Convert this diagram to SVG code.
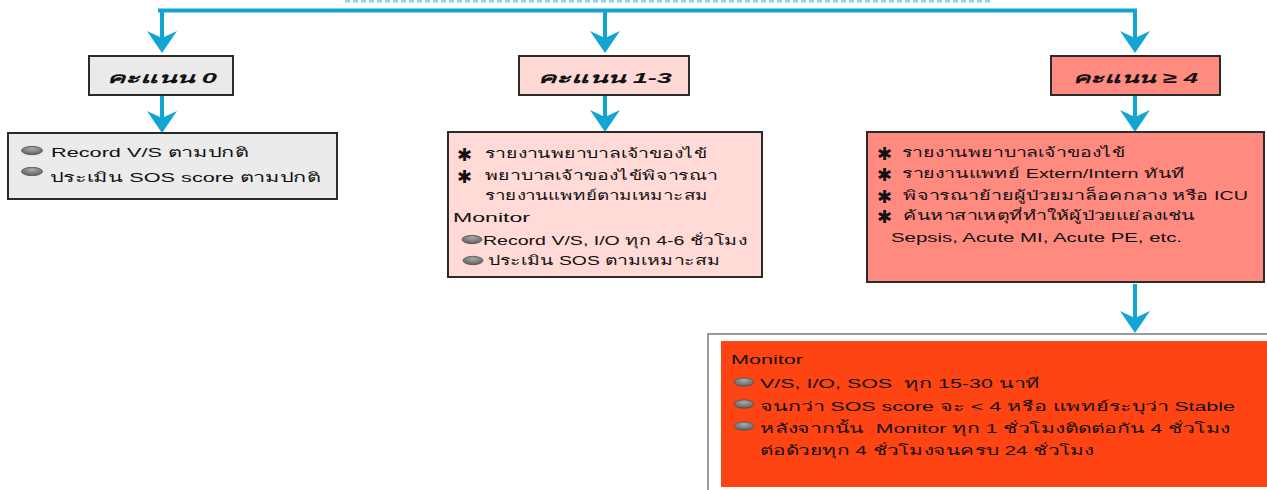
<svg xmlns="http://www.w3.org/2000/svg" width="1267" height="490" viewBox="0 0 1267 490">
<style>
.box{stroke:#2b2b2b;stroke-width:2}
.t{font-family:"Liberation Sans","Noto Sans",sans-serif;font-size:13px;fill:#111;white-space:pre}
.lbl{font-family:"Liberation Sans","Noto Sans",sans-serif;font-size:15px;font-weight:bold;font-style:italic;fill:#111}
.ast{font-family:"DejaVu Sans",sans-serif;font-size:18px;font-weight:bold;fill:#111}
.con{fill:none;stroke:#12A5D4;stroke-width:4}
.bul{fill:url(#bg);stroke:#4a4a4a;stroke-width:0.7}
</style>
<defs>
<radialGradient id="bg" cx="0.5" cy="0.3" r="0.7">
<stop offset="0" stop-color="#a8a8a8"/>
<stop offset="1" stop-color="#5e5e5e"/>
</radialGradient>
<marker id="ah" viewBox="0 0 22 30" refX="10" refY="15" markerWidth="22" markerHeight="30" markerUnits="userSpaceOnUse" orient="auto">
<path d="M0,0 L22,15 L0,30 L7,15 Z" fill="#12A5D4"/>
</marker>
</defs>

<line x1="345" y1="1.2" x2="990" y2="1.2" stroke="#8fd6ee" stroke-width="2.5" stroke-dasharray="5 3"/>

<g id="connectors">
<path class="con" d="M158,10.5 H1137"/>
<path class="con" d="M162,10.5 V41" marker-end="url(#ah)"/>
<path class="con" d="M605,10.5 V41" marker-end="url(#ah)"/>
<path class="con" d="M1135,10.5 V41" marker-end="url(#ah)"/>
<path class="con" d="M162,96 V121" marker-end="url(#ah)"/>
<path class="con" d="M605,96 V120" marker-end="url(#ah)"/>
<path class="con" d="M1135,96 V120" marker-end="url(#ah)"/>
<path class="con" d="M1135,284 V321" marker-end="url(#ah)"/>
</g>

<g id="score0">
<rect class="box" x="89" y="56" width="144" height="39" fill="#EAEAEA"/>
<text class="lbl" x="107" y="83" textLength="110" lengthAdjust="spacingAndGlyphs">คะแนน 0</text>
</g>
<g id="score13">
<rect class="box" x="519" y="56" width="170" height="39" fill="#FFD9D6"/>
<text class="lbl" x="538" y="83" textLength="134" lengthAdjust="spacingAndGlyphs">คะแนน 1-3</text>
</g>
<g id="score4">
<rect class="box" x="1051" y="56" width="169" height="39" fill="#FF8A80"/>
<text class="lbl" x="1073" y="83" textLength="125" lengthAdjust="spacingAndGlyphs">คะแนน ≥ 4</text>
</g>

<g id="action0">
<rect class="box" x="8" y="133" width="329" height="66" fill="#EBEBEB"/>
<ellipse class="bul" cx="32" cy="150.5" rx="10.5" ry="4.2"/>
<text class="t" x="51" y="157" textLength="197" lengthAdjust="spacingAndGlyphs">Record V/S ตามปกติ</text>
<ellipse class="bul" cx="32" cy="171.5" rx="10.5" ry="4.2"/>
<text class="t" x="50" y="182" textLength="270" lengthAdjust="spacingAndGlyphs">ประเมิน SOS score ตามปกติ</text>
</g>

<g id="action13">
<rect class="box" x="448" y="132" width="314" height="145" fill="#FFDAD7"/>
<text class="ast" x="457" y="161">✱</text>
<text class="t" x="485" y="158" textLength="222" lengthAdjust="spacingAndGlyphs">รายงานพยาบาลเจ้าของไข้</text>
<text class="ast" x="457" y="183">✱</text>
<text class="t" x="485" y="180" textLength="232" lengthAdjust="spacingAndGlyphs">พยาบาลเจ้าของไข้พิจารณา</text>
<text class="t" x="485" y="200" textLength="223" lengthAdjust="spacingAndGlyphs">รายงานแพทย์ตามเหมาะสม</text>
<text class="t" x="453" y="222" textLength="77" lengthAdjust="spacingAndGlyphs">Monitor</text>
<ellipse class="bul" cx="472" cy="239.5" rx="10" ry="4.2"/>
<text class="t" x="483" y="245" textLength="264" lengthAdjust="spacingAndGlyphs">Record V/S, I/O ทุก 4-6 ชั่วโมง</text>
<ellipse class="bul" cx="473" cy="260.5" rx="10" ry="4.2"/>
<text class="t" x="488" y="265" textLength="232" lengthAdjust="spacingAndGlyphs">ประเมิน SOS ตามเหมาะสม</text>
</g>

<g id="action4">
<rect class="box" x="867" y="132" width="397" height="150" fill="#FF8A80"/>
<text class="ast" x="877" y="160">✱</text>
<text class="t" x="902" y="157" textLength="223" lengthAdjust="spacingAndGlyphs">รายงานพยาบาลเจ้าของไข้</text>
<text class="ast" x="877" y="181">✱</text>
<text class="t" x="902" y="178" textLength="283" lengthAdjust="spacingAndGlyphs">รายงานแพทย์ Extern/Intern ทันที</text>
<text class="ast" x="877" y="203">✱</text>
<text class="t" x="903" y="200" textLength="345" lengthAdjust="spacingAndGlyphs">พิจารณาย้ายผู้ป่วยมาล็อคกลาง หรือ ICU</text>
<text class="ast" x="877" y="223">✱</text>
<text class="t" x="903" y="220" textLength="292" lengthAdjust="spacingAndGlyphs">ค้นหาสาเหตุที่ทำให้ผู้ป่วยแย่ลงเช่น</text>
<text class="t" x="891" y="242" textLength="291" lengthAdjust="spacingAndGlyphs">Sepsis, Acute MI, Acute PE, etc.</text>
</g>

<g id="monitor4">
<rect x="708" y="334" width="600" height="200" fill="#ffffff" stroke="#9a9a9a" stroke-width="2"/>
<rect x="721" y="341" width="546" height="146" fill="#FF4414"/>
<text class="t" x="731" y="364" textLength="72" lengthAdjust="spacingAndGlyphs">Monitor</text>
<ellipse class="bul" cx="744" cy="382" rx="10" ry="4.2"/>
<text class="t" x="760" y="388" textLength="280" lengthAdjust="spacingAndGlyphs" xml:space="preserve">V/S, I/O, SOS  ทุก 15-30 นาที</text>
<ellipse class="bul" cx="744" cy="404" rx="10" ry="4.2"/>
<text class="t" x="760" y="411" textLength="475" lengthAdjust="spacingAndGlyphs">จนกว่า SOS score จะ &lt; 4 หรือ แพทย์ระบุว่า Stable</text>
<ellipse class="bul" cx="744" cy="426" rx="10" ry="4.2"/>
<text class="t" x="760" y="433" textLength="470" lengthAdjust="spacingAndGlyphs" xml:space="preserve">หลังจากนั้น  Monitor ทุก 1 ชั่วโมงติดต่อกัน 4 ชั่วโมง</text>
<text class="t" x="760" y="455" textLength="334" lengthAdjust="spacingAndGlyphs">ต่อด้วยทุก 4 ชั่วโมงจนครบ 24 ชั่วโมง</text>
</g>
</svg>
